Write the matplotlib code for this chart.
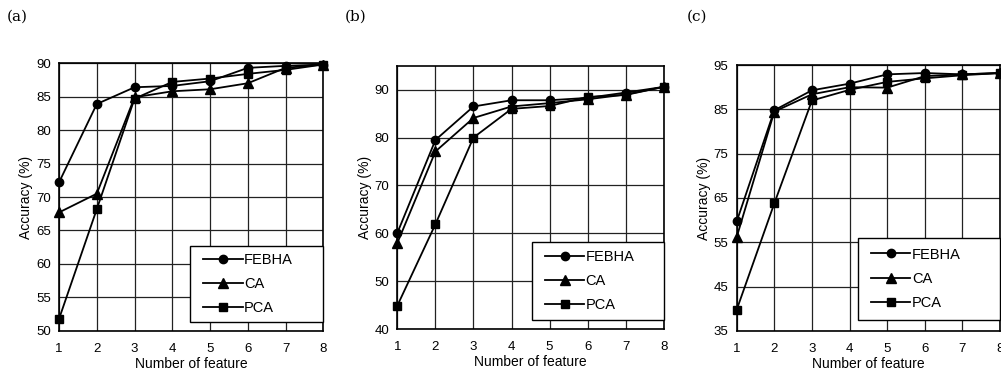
import matplotlib
matplotlib.use("Agg")
import matplotlib.pyplot as plt
from matplotlib.patches import Rectangle

plt.rcParams["font.family"] = ["Liberation Sans", "DejaVu Sans"]

features = [1, 2, 3, 4, 5, 6, 7, 8]

# panel (a)
a_febha = [72.2, 83.9, 86.4, 86.6, 87.3, 89.3, 89.6, 89.8]
a_ca = [67.7, 70.5, 84.9, 85.8, 86.1, 87.0, 89.3, 89.8]
a_pca = [51.8, 68.2, 84.7, 87.2, 87.7, 88.4, 89.0, 89.8]

# panel (b)
b_febha = [60.1, 79.5, 86.5, 87.8, 87.8, 88.3, 89.4, 90.6]
b_ca = [58.0, 77.1, 84.1, 86.5, 87.2, 88.0, 89.0, 90.6]
b_pca = [44.9, 61.9, 80.0, 86.0, 86.6, 88.5, 88.9, 90.6]

# panel (c)
c_febha = [59.7, 84.8, 89.3, 90.8, 92.9, 93.2, 92.9, 93.2]
c_ca = [56.2, 84.5, 88.4, 90.0, 89.9, 92.5, 92.9, 93.2]
c_pca = [39.8, 63.8, 87.0, 89.4, 91.2, 92.0, 92.7, 93.2]

labels = ["FEBHA", "CA", "PCA"]
markers = ["o", "^", "s"]

# tag, axes rect, series, ylim, yticks, tag position, legend box (axes coords)
panels = [
    ("(a)", [0.059, 0.120, 0.264, 0.712], (a_febha, a_ca, a_pca), (50, 90),
     range(50, 91, 5), (0.007, 0.945), (0.496, 0.034, 0.504, 0.283)),
    ("(b)", [0.397, 0.125, 0.266, 0.700], (b_febha, b_ca, b_pca), (40, 95),
     range(40, 91, 10), (0.344, 0.945), (0.504, 0.034, 0.496, 0.297)),
    ("(c)", [0.736, 0.120, 0.263, 0.707], (c_febha, c_ca, c_pca), (35, 95),
     range(35, 96, 10), (0.686, 0.945), (0.46, 0.041, 0.54, 0.31)),
]

fig = plt.figure(figsize=(10.01, 3.76), dpi=100)

for tag, pos, series, ylim, yticks, tagpos, legbox in panels:
    ax = fig.add_axes(pos)
    for vals, lab, m in zip(series, labels, markers):
        ax.plot(features, vals, color="black", linewidth=1.3, marker=m,
                markersize=6 if m != "^" else 6.5, label=lab, clip_on=False, zorder=3)
    ax.set_xlim(1, 8)
    ax.set_ylim(*ylim)
    ax.set_xticks(features)
    ax.set_yticks(list(yticks))
    ax.grid(True, color="#222222", linewidth=0.9)
    ax.tick_params(axis="y", length=0, labelsize=9.5, pad=6)
    ax.tick_params(axis="x", length=0, labelsize=9.5, pad=9)
    for sp in ax.spines.values():
        sp.set_linewidth(1.2)
    ax.set_xlabel("Number of feature", fontsize=10, labelpad=1)
    ax.set_ylabel("Accuracy (%)", fontsize=10, labelpad=2)

    # legend frame drawn separately so the box can be wider than its content
    x0, y0, w, h = legbox
    ax.add_patch(Rectangle((x0, y0), w, h, transform=ax.transAxes, facecolor="white",
                           edgecolor="black", linewidth=1.0, zorder=5, clip_on=False))
    leg = ax.legend(loc="center left", bbox_to_anchor=(x0 + 0.05, y0 + h / 2),
                    borderaxespad=0, frameon=False, fontsize=10.5, handlelength=2.7,
                    handletextpad=0.1, labelspacing=0.7, borderpad=0)
    leg.set_zorder(6)
    fig.text(tagpos[0], tagpos[1], tag, fontsize=11, family="DejaVu Serif")

fig.savefig("out.png", dpi=100)
